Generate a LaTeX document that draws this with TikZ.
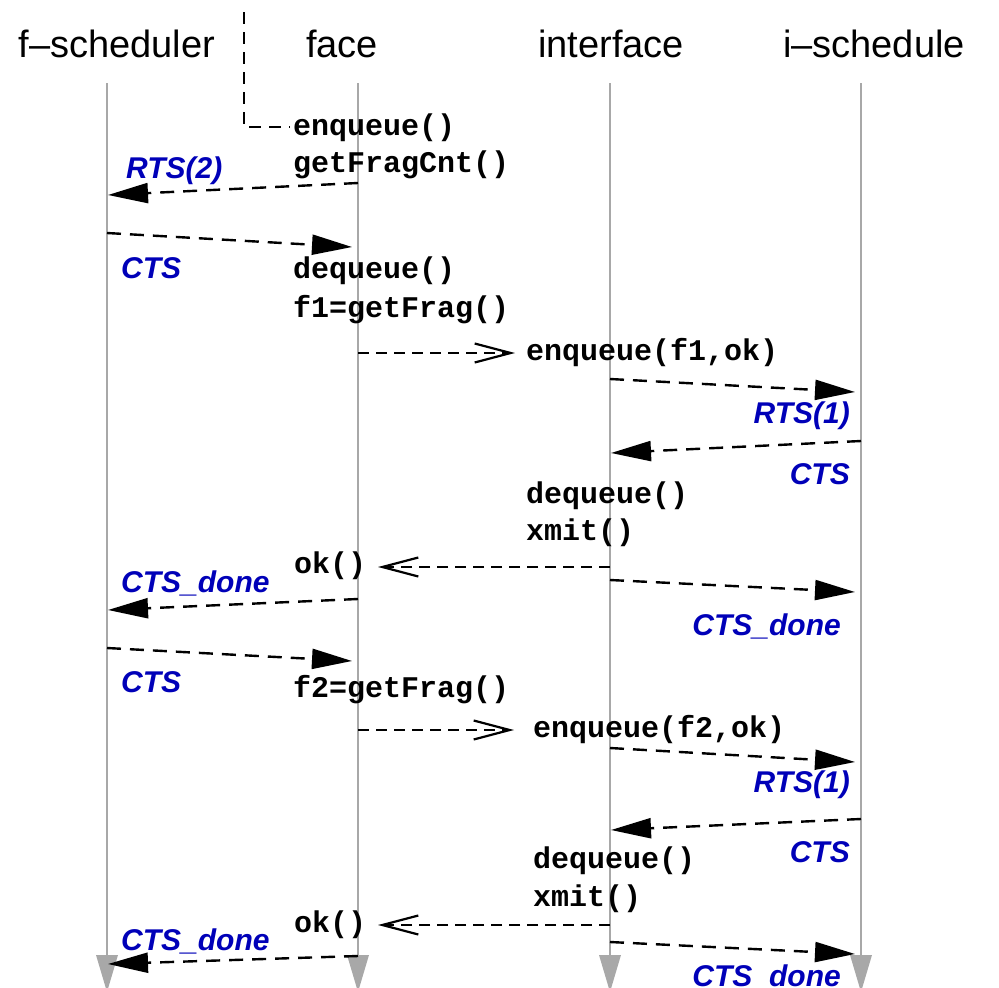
\documentclass[tikz,border=0pt]{standalone}
\usepackage{fontspec}
\setmainfont{Liberation Sans}
\newfontfamily\monofont{Liberation Mono}
\usetikzlibrary{arrows.meta}
\definecolor{lblblue}{rgb}{0,0,0.72}
\definecolor{lifegray}{gray}{0.66}
\begin{document}
\begin{tikzpicture}[x=1pt,y=-1pt,
  title/.style={font=\fontsize{38}{38}\selectfont, anchor=base, inner sep=0},
  code/.style={font=\monofont\bfseries\fontsize{30}{30}\selectfont, anchor=base west, inner sep=0},
  lbl/.style={font=\bfseries\itshape\fontsize{30}{30}\selectfont, text=lblblue, inner sep=0, text height=21.5pt, text depth=0pt},
  lbll/.style={lbl, anchor=west},
  lblr/.style={lbl, anchor=east},
  lifeline/.style={draw=lifegray, line width=1.5pt},
  endtip/.style={fill=lifegray},
  msg/.style={dash pattern=on 14pt off 9pt, line width=2.4pt, -{Triangle[length=40pt,width=20pt]}},
  call/.style={dash pattern=on 11pt off 7pt, line width=1.8pt, -{Straight Barb[length=36pt,width=19pt,line width=2.2pt]}},
  entry/.style={dash pattern=on 12pt off 8pt, line width=1.6pt}
]
\useasboundingbox (0,0) rectangle (999,988);
\clip (0,0) rectangle (999,988);

% titles
\node[title] (tfs) at (117,57) {f–scheduler};
\node[title] (tfa) at (342,57) {face};
\node[title] (tin) at (611,57) {interface};
\node[title] (tis) at (874,57) {i–schedule};

% lifelines
\foreach \n/\x in {fs/107, fa/358, in/610, is/861}{
  \coordinate (\n top) at (\x,83);
  \coordinate (\n bot) at (\x,955);
  \draw[lifeline] (\n top) -- (\n bot);
  \fill[endtip] (\x-11,955) -- (\x+11,955) -- (\x,992) -- cycle;
}

% entry call
\coordinate (e0) at (244,12);
\coordinate (e1) at (244,127);
\coordinate (e2) at (290,127);
\draw[entry] (e0) -- (e1) -- (e2);

% code texts
\node[code] (t1) at (293,135) {enqueue()};
\node[code] (t2) at (293,172) {getFragCnt()};
\node[code] (t3) at (293,278) {dequeue()};
\node[code] (t4) at (293,317) {f1=getFrag()};
\node[code] (t5) at (526,360) {enqueue(f1,ok)};
\node[code] (t6) at (526,503) {dequeue()};
\node[code] (t7) at (526,540) {xmit()};
\node[code] (t8) at (294,573) {ok()};
\node[code] (t9) at (293,697) {f2=getFrag()};
\node[code] (t10) at (533,737) {enqueue(f2,ok)};
\node[code] (t11) at (533,868) {dequeue()};
\node[code] (t12) at (533,906) {xmit()};
\node[code] (t13) at (294,932) {ok()};

% blue labels
\node[lbll] (l1) at (126,168) {RTS(2)};
\node[lbll] (l2) at (121,268) {CTS};
\node[lblr] (l3) at (850,413) {RTS(1)};
\node[lblr] (l4) at (850,474) {CTS};
\node[lblr] (l5) at (841,625) {CTS\_done};
\node[lbll] (l6) at (121,582) {CTS\_done};
\node[lbll] (l7) at (121,682) {CTS};
\node[lblr] (l8) at (850,782) {RTS(1)};
\node[lblr] (l9) at (850,852) {CTS};
\node[lbll] (l10) at (121,940) {CTS\_done};
\node[lblr] (l11) at (841,976) {CTS\_done};

% message end points
\coordinate (a1) at (358,183); \coordinate (b1) at (108,195);
\coordinate (a2) at (107,233); \coordinate (b2) at (352,247);
\coordinate (a3) at (610,379); \coordinate (b3) at (855,392);
\coordinate (a4) at (861,441); \coordinate (b4) at (611,453);
\coordinate (a5) at (610,580); \coordinate (b5) at (855,592);
\coordinate (a6) at (358,599); \coordinate (b6) at (108,610);
\coordinate (a7) at (107,648); \coordinate (b7) at (352,661);
\coordinate (a8) at (610,748); \coordinate (b8) at (855,762);
\coordinate (a9) at (861,819); \coordinate (b9) at (611,830);
\coordinate (a10) at (610,942); \coordinate (b10) at (855,954);
\coordinate (a11) at (358,956); \coordinate (b11) at (108,964);

\foreach \i in {1,...,11}{ \draw[msg] (a\i) -- (b\i); }

% calls with open heads
\coordinate (c1s) at (358,353); \coordinate (c1e) at (515,353);
\coordinate (c2s) at (610,567); \coordinate (c2e) at (378,567);
\coordinate (c3s) at (358,730); \coordinate (c3e) at (514,730);
\coordinate (c4s) at (610,925); \coordinate (c4e) at (378,925);
\foreach \i in {1,...,4}{ \draw[call] (c\i s) -- (c\i e); }
\end{tikzpicture}
\end{document}
